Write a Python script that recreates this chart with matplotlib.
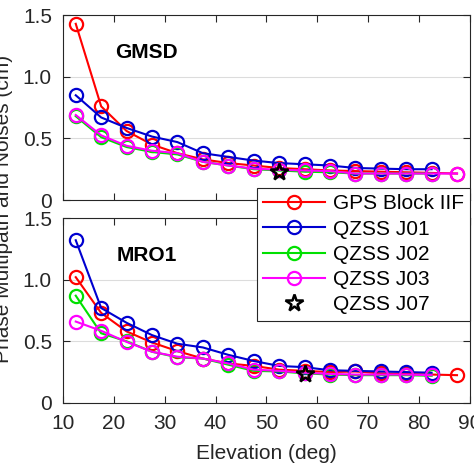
import matplotlib
matplotlib.use("Agg")
import matplotlib.pyplot as plt
from matplotlib.lines import Line2D

plt.rcParams['font.family'] = ['Liberation Sans', 'DejaVu Sans']

elev = [12.5, 17.5, 22.5, 27.5, 32.5, 37.5, 42.5, 47.5, 52.5, 57.5, 62.5, 67.5, 72.5, 77.5, 82.5, 87.5]

# GMSD (top)
gmsd_gps = [1.43, 0.76, 0.56, 0.45, 0.38, 0.33, 0.30, 0.28, 0.26, 0.25, 0.24, 0.235, 0.23, 0.225, 0.22, 0.215]
gmsd_j01 = [0.85, 0.67, 0.585, 0.515, 0.47, 0.38, 0.35, 0.32, 0.30, 0.29, 0.28, 0.26, 0.255, 0.25, 0.25]
gmsd_j02 = [0.68, 0.51, 0.43, 0.39, 0.37, 0.31, 0.28, 0.25, 0.24, 0.23, 0.225, 0.215, 0.215, 0.215, 0.215]
gmsd_j03 = [0.69, 0.525, 0.44, 0.40, 0.38, 0.31, 0.28, 0.255, 0.245, 0.24, 0.235, 0.215, 0.215, 0.215, 0.215, 0.215]
gmsd_j07_x = [52.5]
gmsd_j07 = [0.23]

# MRO1 (bottom)
mro1_gps = [1.02, 0.73, 0.58, 0.49, 0.42, 0.36, 0.32, 0.30, 0.27, 0.26, 0.25, 0.255, 0.24, 0.235, 0.23, 0.225]
mro1_j01 = [1.32, 0.77, 0.65, 0.55, 0.48, 0.45, 0.39, 0.34, 0.30, 0.29, 0.265, 0.26, 0.255, 0.25, 0.245]
mro1_j02 = [0.87, 0.565, 0.50, 0.415, 0.37, 0.36, 0.31, 0.26, 0.255, 0.24, 0.23, 0.225, 0.225, 0.225, 0.22]
mro1_j03 = [0.66, 0.585, 0.495, 0.415, 0.375, 0.36, 0.32, 0.27, 0.26, 0.245, 0.235, 0.23, 0.23, 0.23, 0.225]
mro1_j07_x = [57.5]
mro1_j07 = [0.235]

labels = ['GPS Block IIF', 'QZSS J01', 'QZSS J02', 'QZSS J03', 'QZSS J07']
colors = ['#ff0000', '#0000d0', '#00e000', '#ff00ff']
xticks = [10, 20, 30, 40, 50, 60, 70, 80, 90]
yticks = [0, 0.5, 1.0, 1.5]
yticklabels = ['0', '0.5', '1.0', '1.5']

fig = plt.figure(figsize=(4.74, 4.74), dpi=100)
ax1 = fig.add_axes([0.133, 0.578, 0.858, 0.390])
ax2 = fig.add_axes([0.133, 0.150, 0.858, 0.390])

FS = 15
TXT = '#262626'

def draw(ax, series, sx, sy, name):
    for ys, c in zip(series, colors):
        ax.plot(elev[:len(ys)], ys, '-o', color=c, lw=1.5, ms=9.5, mfc='none', mec=c, mew=1.6)
    ax.plot(sx, sy, linestyle='none', marker='*', ms=13, mfc='none', mec='k', mew=1.8)
    ax.set_xlim(10, 90)
    ax.set_ylim(0, 1.5)
    ax.set_xticks(xticks)
    ax.set_yticks(yticks)
    ax.set_yticklabels(yticklabels)
    ax.tick_params(direction='in', top=True, right=True, length=5, width=0.8,
                   labelsize=FS, colors=TXT, labelcolor=TXT)
    ax.tick_params(axis='y', pad=8)
    ax.tick_params(axis='x', pad=8)
    ax.grid(axis='y', color='#dcdcdc', lw=0.8)
    ax.set_axisbelow(True)
    for s in ax.spines.values():
        s.set_color(TXT)
        s.set_linewidth(0.8)
    ax.text(26.5, 1.2, name, fontsize=FS, fontweight='bold', ha='center', va='center')

draw(ax1, [gmsd_gps, gmsd_j01, gmsd_j02, gmsd_j03], gmsd_j07_x, gmsd_j07, 'GMSD')
draw(ax2, [mro1_gps, mro1_j01, mro1_j02, mro1_j03], mro1_j07_x, mro1_j07, 'MRO1')
ax1.set_xticklabels([])
ax2.set_xlabel('Elevation (deg)', fontsize=FS, color=TXT, labelpad=8)

fig.text(0.008, 0.559, 'Phase Multipath and Noises (cm)', rotation=90, fontsize=FS,
         ha='center', va='center', color=TXT)

handles = [Line2D([], [], color=c, lw=1.5, marker='o', ms=9.5, mfc='none', mec=c, mew=1.6) for c in colors]
handles.append(Line2D([], [], linestyle='none', marker='*', ms=13, mfc='none', mec='k', mew=1.8))
leg = fig.legend(handles, labels, loc='upper right', bbox_to_anchor=(0.9916, 0.603),
                 fontsize=FS, frameon=True, fancybox=False, edgecolor=TXT,
                 framealpha=1, handlelength=3.0, labelspacing=0.3, borderpad=0.3,
                 handletextpad=0.35, borderaxespad=0)
leg.get_frame().set_linewidth(0.8)

fig.savefig('out.png', dpi=100)
